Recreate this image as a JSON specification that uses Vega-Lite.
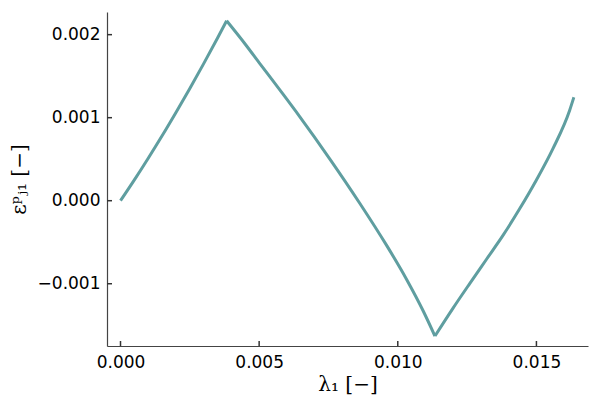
{
  "$schema": "https://vega.github.io/schema/vega-lite/v6.json",
  "width": 481,
  "height": 334,
  "autosize": "none",
  "padding": {"left": 107, "top": 12, "right": 12, "bottom": 54},
  "background": "white",
  "config": {
    "view": {"stroke": null},
    "axis": {
      "grid": false,
      "ticks": false,
      "domainColor": "#444444",
      "domainWidth": 1.2,
      "labelFont": "DejaVu Sans",
      "labelFontSize": 17,
      "labelColor": "#000000",
      "titleFont": "DejaVu Serif",
      "titleFontSize": 20,
      "titleFontWeight": "normal",
      "titleColor": "#000000"
    }
  },
  "datasets": {
    "curve": [
      {"seg": 1, "x": 0.0, "y": 0.0},
      {"seg": 1, "x": 0.0005, "y": 0.000251},
      {"seg": 1, "x": 0.001, "y": 0.000512},
      {"seg": 1, "x": 0.0015, "y": 0.000782},
      {"seg": 1, "x": 0.002, "y": 0.001063},
      {"seg": 1, "x": 0.0025, "y": 0.001352},
      {"seg": 1, "x": 0.003, "y": 0.001651},
      {"seg": 1, "x": 0.0035, "y": 0.00196},
      {"seg": 1, "x": 0.003827, "y": 0.002167},
      {"seg": 2, "x": 0.003827, "y": 0.002167},
      {"seg": 2, "x": 0.0045, "y": 0.001885},
      {"seg": 2, "x": 0.005018, "y": 0.001655},
      {"seg": 2, "x": 0.0058, "y": 0.00131},
      {"seg": 2, "x": 0.006462, "y": 0.001013},
      {"seg": 2, "x": 0.007545, "y": 0.000505},
      {"seg": 2, "x": 0.008628, "y": -0.00003},
      {"seg": 2, "x": 0.009592, "y": -0.000535},
      {"seg": 2, "x": 0.010314, "y": -0.000945},
      {"seg": 2, "x": 0.010913, "y": -0.001325},
      {"seg": 2, "x": 0.01134, "y": -0.00163},
      {"seg": 3, "x": 0.01134, "y": -0.00163},
      {"seg": 3, "x": 0.012, "y": -0.00129},
      {"seg": 3, "x": 0.0126, "y": -0.000995},
      {"seg": 3, "x": 0.0132, "y": -0.000705},
      {"seg": 3, "x": 0.0138, "y": -0.000415},
      {"seg": 3, "x": 0.0144, "y": -0.000095},
      {"seg": 3, "x": 0.015, "y": 0.00025},
      {"seg": 3, "x": 0.0156, "y": 0.00063},
      {"seg": 3, "x": 0.0162, "y": 0.00109},
      {"seg": 3, "x": 0.01635, "y": 0.001246}
    ],
    "xticks": [{"v": 0}, {"v": 0.005}, {"v": 0.01}, {"v": 0.015}],
    "yticks": [{"v": -0.001}, {"v": 0}, {"v": 0.001}, {"v": 0.002}]
  },
  "layer": [
    {
      "data": {"name": "curve"},
      "mark": {"type": "line", "color": "#5F9EA0", "strokeWidth": 3, "interpolate": "monotone", "clip": true},
      "encoding": {
        "x": {
          "field": "x",
          "type": "quantitative",
          "scale": {"domain": [-0.000487, 0.01686], "nice": false, "zero": false},
          "axis": {
            "title": "λ₁  [−]",
            "values": [0, 0.005, 0.01, 0.015],
            "format": ".3f",
            "labelPadding": 8,
            "titlePadding": 4
          }
        },
        "y": {
          "field": "y",
          "type": "quantitative",
          "scale": {"domain": [-0.00175, 0.002273], "nice": false, "zero": false},
          "axis": {
            "title": "εᵖⱼ₁  [−]",
            "values": [-0.001, 0, 0.001, 0.002],
            "format": ".3f",
            "labelPadding": 7,
            "titlePadding": 8
          }
        },
        "detail": {"field": "seg", "type": "nominal"},
        "order": {"field": "x", "type": "quantitative"}
      }
    },
    {
      "data": {"name": "xticks"},
      "mark": {"type": "rule", "color": "#333333", "strokeWidth": 1.5},
      "encoding": {
        "x": {"field": "v", "type": "quantitative"},
        "y": {"datum": -0.00175},
        "y2": {"datum": -0.00169}
      }
    },
    {
      "data": {"name": "yticks"},
      "mark": {"type": "rule", "color": "#333333", "strokeWidth": 1.5},
      "encoding": {
        "y": {"field": "v", "type": "quantitative"},
        "x": {"datum": -0.000487},
        "x2": {"datum": -0.000307}
      }
    }
  ]
}
